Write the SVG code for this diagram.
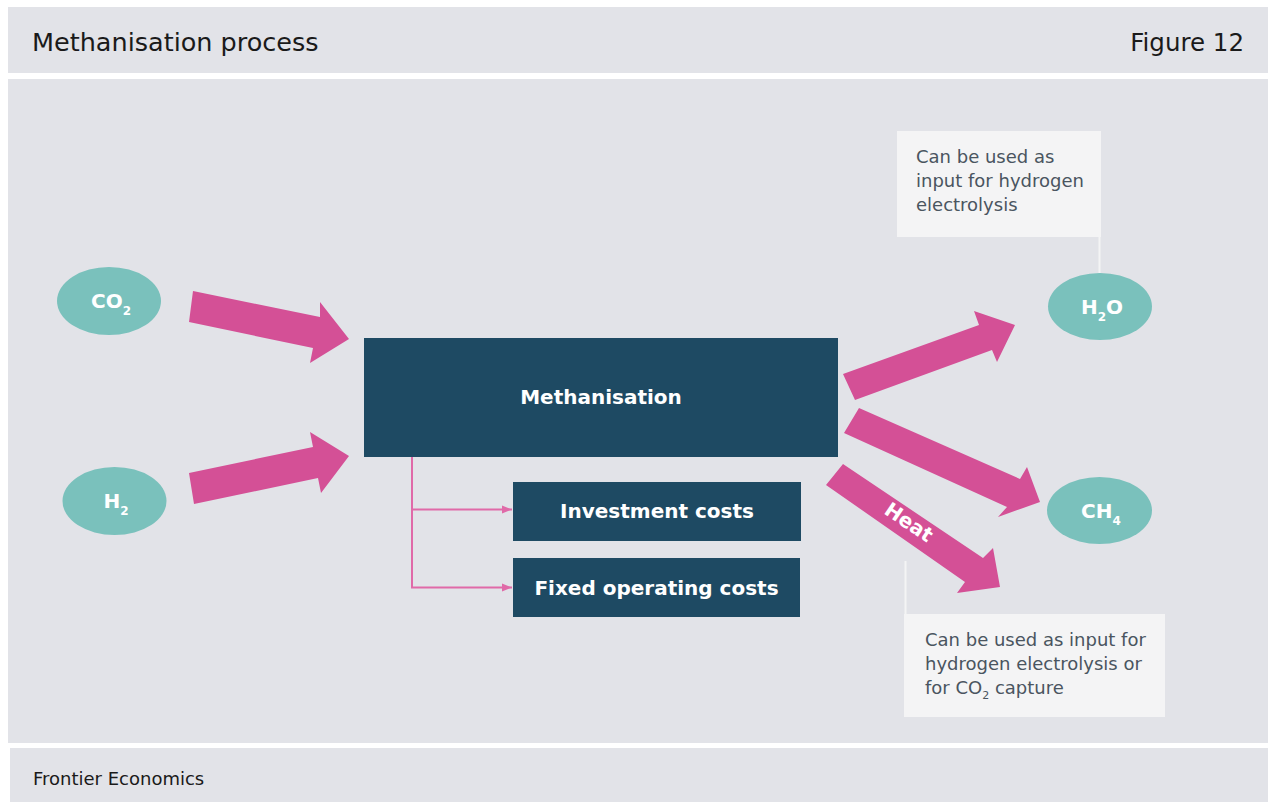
<svg xmlns="http://www.w3.org/2000/svg" width="1268" height="802" viewBox="0 0 1268 802">
<defs>
<style>
.panel{fill:#E2E3E8}
.ell{fill:#7AC1BC}
.box{fill:#1E4A63}
.pink{fill:#D45096}
.note{fill:#F4F4F5}
.lbl{font-family:"DejaVu Sans","Liberation Sans",sans-serif;font-weight:bold;fill:#FFFFFF;text-anchor:middle}
.ntxt{font-family:"DejaVu Sans","Liberation Sans",sans-serif;font-size:18px;fill:#4A5560}
.hdr{font-family:"DejaVu Sans","Liberation Sans",sans-serif;fill:#1A1A1A}
.conn{stroke:#E06AA8;stroke-width:2;fill:none}
.lead{stroke:#F4F4F5;stroke-width:2;fill:none}
</style>
<marker id="ah" viewBox="0 0 10 10" refX="10" refY="5" markerWidth="10" markerHeight="10" markerUnits="userSpaceOnUse" orient="auto">
<path d="M0,1 L10,5 L0,9 Z" fill="#E06AA8"/>
</marker>
</defs>
<rect width="1268" height="802" fill="#FFFFFF"/>
<rect class="panel" x="8" y="7" width="1260" height="66"/>
<rect class="panel" x="8" y="79" width="1260" height="664"/>
<rect class="panel" x="10" y="748" width="1258" height="54"/>
<text class="hdr" x="32" y="51" font-size="25.5">Methanisation process</text>
<text class="hdr" x="1244" y="51" font-size="24.5" text-anchor="end">Figure 12</text>
<text class="hdr" x="33" y="785" font-size="18">Frontier Economics</text>

<g id="connectors">
<polygon class="pink" points="193,291 320,317 320,302 349,339 310,363 313,348 189,322"/>
<polygon class="pink" points="189,473 313,447 310,432 349,456 321,493 318,478 194,504"/>
<polygon class="pink" points="843,374 979,325 974,311 1015,325 997,362 992,350 855,400"/>
<polygon class="pink" points="859,408 1020,479 1027,467 1040,502 998,517 1007,507 844,433"/>
<polygon class="pink" points="843,464 983,558 993,548 1000,587 957,593 965,582 826,485"/>
<text class="lbl" font-size="20" transform="translate(905,528) rotate(34)">Heat</text>
<path class="conn" d="M412,457 V588"/>
<path class="conn" d="M411,509.5 H512" marker-end="url(#ah)"/>
<path class="conn" d="M411,587.5 H512" marker-end="url(#ah)"/>
<path class="lead" d="M1099.5,237 V273"/>
<path class="lead" d="M905.5,561 V614"/>
</g>

<g id="co2">
<ellipse class="ell" cx="109" cy="301" rx="52" ry="34"/>
<text class="lbl" x="111" y="308" font-size="20">CO<tspan font-size="12" dy="7">2</tspan></text>
</g>
<g id="h2">
<ellipse class="ell" cx="114.5" cy="501" rx="52" ry="34"/>
<text class="lbl" x="116" y="508" font-size="20">H<tspan font-size="12" dy="7">2</tspan></text>
</g>
<g id="h2o">
<ellipse class="ell" cx="1100" cy="306.5" rx="52" ry="33.5"/>
<text class="lbl" x="1102" y="314" font-size="20">H<tspan font-size="12" dy="7">2</tspan><tspan dy="-7">O</tspan></text>
</g>
<g id="ch4">
<ellipse class="ell" cx="1099.5" cy="510.5" rx="52.5" ry="33.5"/>
<text class="lbl" x="1101" y="518" font-size="20">CH<tspan font-size="12" dy="7">4</tspan></text>
</g>
<g id="methanisation">
<rect class="box" x="364" y="338" width="474" height="119"/>
<text class="lbl" x="601" y="404" font-size="20">Methanisation</text>
</g>
<g id="investment">
<rect class="box" x="513" y="482" width="288" height="59"/>
<text class="lbl" x="657" y="518" font-size="20">Investment costs</text>
</g>
<g id="fixed">
<rect class="box" x="513" y="558" width="287" height="59"/>
<text class="lbl" x="656.5" y="595" font-size="20">Fixed operating costs</text>
</g>
<g id="note-h2o">
<rect class="note" x="897" y="131" width="204" height="106"/>
<text class="ntxt" x="916" y="163">Can be used as</text>
<text class="ntxt" x="916" y="187">input for hydrogen</text>
<text class="ntxt" x="916" y="211">electrolysis</text>
</g>
<g id="note-heat">
<rect class="note" x="904" y="614" width="261" height="103"/>
<text class="ntxt" x="925" y="646">Can be used as input for</text>
<text class="ntxt" x="925" y="670">hydrogen electrolysis or</text>
<text class="ntxt" x="925" y="694">for CO<tspan font-size="11" dy="5">2</tspan><tspan dy="-5"> capture</tspan></text>
</g>
</svg>
